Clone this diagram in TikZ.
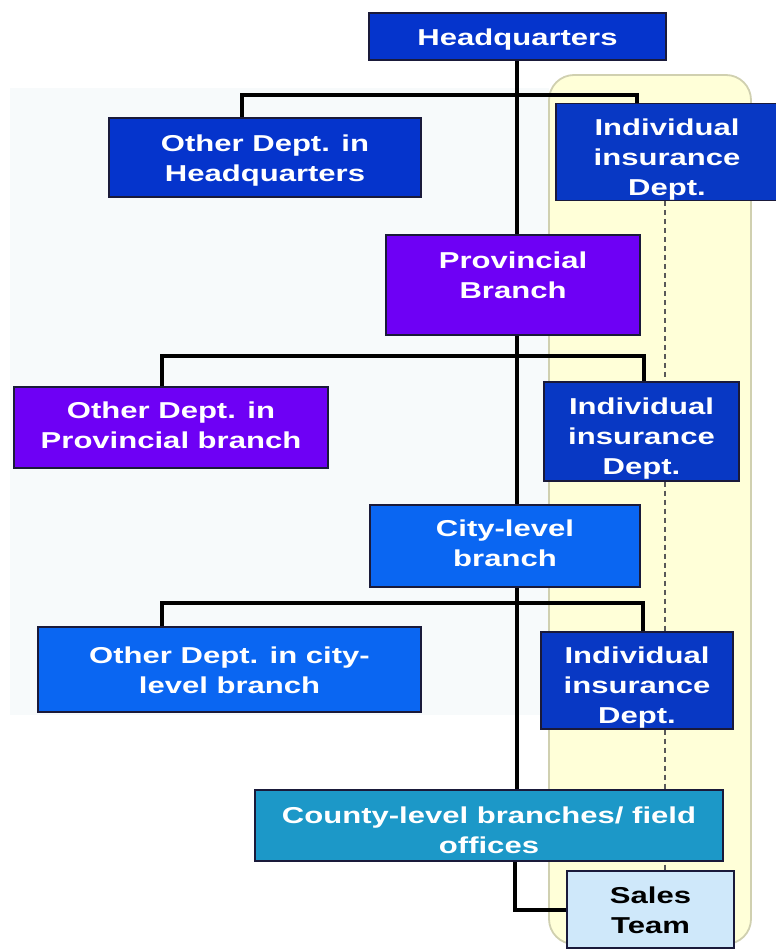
\documentclass[tikz,border=0pt]{standalone}
\usepackage{fontspec}
\setmainfont[FakeStretch=1.35]{Liberation Sans}
\pgfdeclarelayer{band}
\pgfdeclarelayer{lines}
\pgfsetlayers{band,lines,main}
\definecolor{hqblue}{HTML}{0534CC}
\definecolor{indblue}{HTML}{0838C4}
\definecolor{provpurple}{HTML}{6E00F5}
\definecolor{cityblue}{HTML}{0A66F2}
\definecolor{countyteal}{HTML}{1C98C8}
\definecolor{salesfill}{HTML}{CFE8FA}
\definecolor{bandfill}{HTML}{FFFFD8}
\definecolor{banddraw}{HTML}{D0D0B0}
\definecolor{boxedge}{HTML}{1A1A3A}
\definecolor{paneltint}{HTML}{F7FAFB}
% text shift helpers: \ta{d} opens the first line, \tz{d} closes the last one
\newcommand\ta[1]{\rule{0pt}{\dimexpr24pt+#1pt\relax}}
\newcommand\tz[1]{\rule[\dimexpr-12pt+#1pt\relax]{0pt}{0pt}}
\begin{document}
\begin{tikzpicture}[x=1pt,y=-1pt,
  orgbox/.style={draw=boxedge,line width=1.2pt,text=white,align=center,
    inner sep=0pt,font=\bfseries\fontsize{23}{30}\selectfont},
  conn/.style={draw=black,line width=4pt,line cap=rect},
  dashline/.style={draw=black!65,line width=1.6pt,dash pattern=on 5pt off 4pt}]
\useasboundingbox (0,0) rectangle (776,950);
% nodes
\node[orgbox,fill=hqblue,minimum width=297,minimum height=47] (hq) at (517.5,36.5) {\ta{3.5}Headquarters\tz{3.5}};
\node[orgbox,fill=hqblue,minimum width=312,minimum height=79] (ohq) at (265,157.5) {\ta{2.8}Other Dept. in\\Headquarters\tz{2.8}};
\node[orgbox,fill=indblue,minimum width=222,minimum height=96] (ihq) at (667,152) {\ta{8}Individual\\insurance\\Dept.\tz{8}};
\node[orgbox,fill=provpurple,minimum width=254,minimum height=100] (prov) at (513,285) {\ta{-8}Provincial\\Branch\tz{-8}};
\node[orgbox,fill=provpurple,minimum width=314,minimum height=81] (oprov) at (171,427.5) {\ta{0}Other Dept. in\\Provincial branch\tz{0}};
\node[orgbox,fill=indblue,minimum width=195,minimum height=99] (iprov) at (641.5,431.5) {\ta{7}Individual\\insurance\\Dept.\tz{7}};
\node[orgbox,fill=cityblue,minimum width=270,minimum height=82] (city) at (505,546) {\ta{-0.7}City-level\\branch\tz{-0.7}};
\node[orgbox,fill=cityblue,minimum width=383,minimum height=85] (ocity) at (229.5,669.5) {\ta{3}Other Dept. in city-\\level branch\tz{3}};
\node[orgbox,fill=indblue,minimum width=192,minimum height=97] (icity) at (637,680.5) {\ta{7.5}Individual\\insurance\\Dept.\tz{7.5}};
\node[orgbox,fill=countyteal,minimum width=468,minimum height=71] (county) at (489,825.5) {\ta{6.5}County-level branches/ field\\offices\tz{6.5}};
\node[orgbox,fill=salesfill,text=black,minimum width=167,minimum height=77] (sales) at (650.5,909.5) {\ta{2.8}Sales\\Team\tz{2.8}};
% junction coordinates
\coordinate (j1l) at (242,95);
\coordinate (j1r) at (637,95);
\coordinate (j2l) at (162,355.5);
\coordinate (j2r) at (644,355.5);
\coordinate (j3l) at (162,603);
\coordinate (j3r) at (643,603);
\coordinate (tr) at (517,0);
\coordinate (tb) at (515,0);
\coordinate (dl) at (665,0);
\begin{pgfonlayer}{band}
\fill[white] (0,0) rectangle (776,950);
\fill[paneltint] (10,88) rectangle (549,715);
\draw[banddraw,fill=bandfill,line width=1.8pt,rounded corners=25pt] (549,75) rectangle (751,944);
\end{pgfonlayer}
\begin{pgfonlayer}{lines}
\draw[dashline] (ihq.south -| dl) -- (iprov.north -| dl);
\draw[dashline] (iprov.south -| dl) -- (icity.north -| dl);
\draw[dashline] (icity.south -| dl) -- (sales.north -| dl);
\draw[conn] (hq.south -| tr) -- (prov.north -| tr);
\draw[conn] (ohq.north -| j1l) -- (j1l) -- (j1r) -- (ihq.north -| j1r);
\draw[conn] (prov.south -| tr) -- (city.north -| tr);
\draw[conn] (oprov.north -| j2l) -- (j2l) -- (j2r) -- (iprov.north -| j2r);
\draw[conn] (city.south -| tr) -- (county.north -| tr);
\draw[conn] (ocity.north -| j3l) -- (j3l) -- (j3r) -- (icity.north -| j3r);
\draw[conn,line cap=butt] (county.south -| tb) |- (sales.west);
\end{pgfonlayer}
\end{tikzpicture}
\end{document}
